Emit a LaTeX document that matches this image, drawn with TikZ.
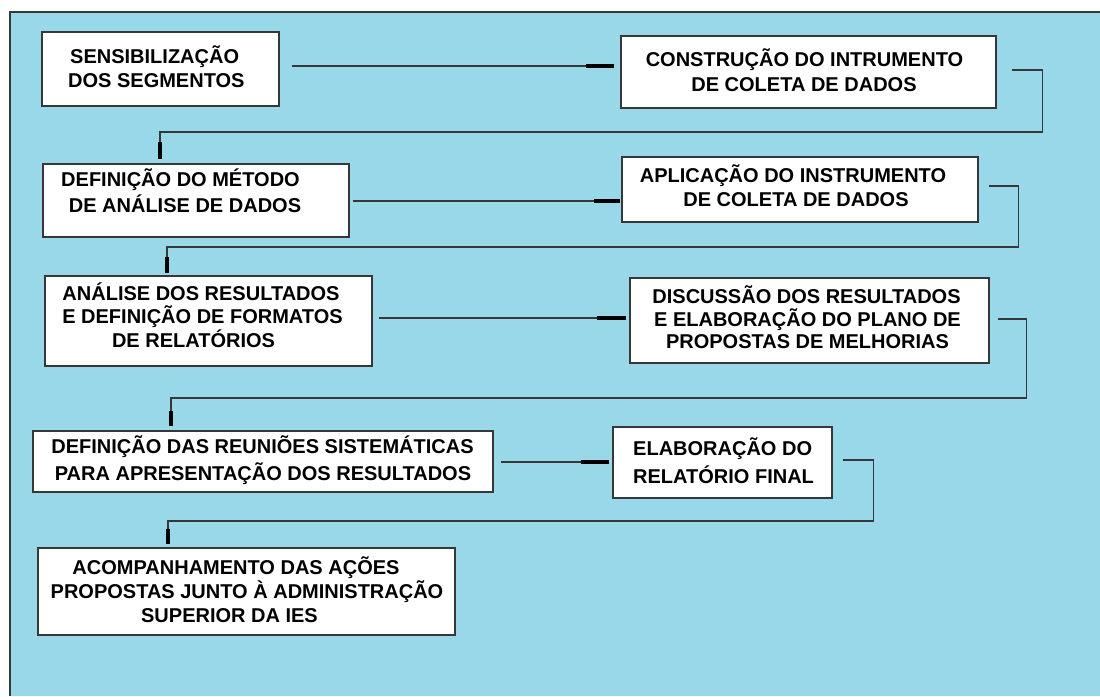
\documentclass[tikz,border=0pt]{standalone}
\usepackage{fontspec}
\setmainfont{Liberation Sans}
\usetikzlibrary{calc}
\definecolor{bgblue}{RGB}{153,216,233}
\definecolor{edge}{RGB}{55,55,55}
\tikzset{
  stepbox/.style={draw=edge, line width=1.5pt, fill=white, inner sep=0pt, rectangle},
  lbl/.style={inner sep=0pt, anchor=base, font=\bfseries\fontsize{20}{24}\selectfont},
  lblw/.style={lbl, anchor=base west},
  conn/.style={draw=edge, line width=1.3pt},
  thickend/.style={draw=black, line width=4pt}
}
\begin{document}
\begin{tikzpicture}[x=1pt,y=-1pt]
\useasboundingbox (0,0) rectangle (1100,696);
\fill[bgblue] (10,12) rectangle (1100,696);
\draw[edge, line width=1.5pt] (10,696) -- (10,12) -- (1100,12);

% boxes
\node[stepbox, minimum width=237pt, minimum height=74pt] (b1) at (160.5,69) {};
\node[stepbox, minimum width=375pt, minimum height=72pt] (b2) at (808.5,72) {};
\node[stepbox, minimum width=306pt, minimum height=73pt] (b3) at (196,200.5) {};
\node[stepbox, minimum width=356pt, minimum height=65pt] (b4) at (800,189.5) {};
\node[stepbox, minimum width=327pt, minimum height=90pt] (b5) at (208.5,321) {};
\node[stepbox, minimum width=359pt, minimum height=85pt] (b6) at (809.5,320.5) {};
\node[stepbox, minimum width=460pt, minimum height=61pt] (b7) at (263,461.5) {};
\node[stepbox, minimum width=219pt, minimum height=71pt] (b8) at (722.5,462.5) {};
\node[stepbox, minimum width=417pt, minimum height=87pt] (b9) at (246.5,591.5) {};

% texts
\node[lblw] (t1a) at (70,63) {SENSIBILIZAÇÃO};
\node[lblw] (t1b) at (68,87) {DOS SEGMENTOS};
\node[lbl] (t2a) at (804.5,66) {CONSTRUÇÃO DO INTRUMENTO};
\node[lbl] (t2b) at (804,91) {DE COLETA DE DADOS};
\node[lbl] (t3a) at (180.5,186) {DEFINIÇÃO DO MÉTODO};
\node[lbl] (t3b) at (185,212) {DE ANÁLISE DE DADOS};
\node[lbl] (t4a) at (793,182) {APLICAÇÃO DO INSTRUMENTO};
\node[lbl] (t4b) at (796,206) {DE COLETA DE DADOS};
\node[lbl] (t5a) at (201,300) {ANÁLISE DOS RESULTADOS};
\node[lbl] (t5b) at (202.5,323) {E DEFINIÇÃO DE FORMATOS};
\node[lbl] (t5c) at (193.5,347) {DE RELATÓRIOS};
\node[lbl] (t6a) at (806.5,303) {DISCUSSÃO DOS RESULTADOS};
\node[lbl] (t6b) at (807.5,326) {E ELABORAÇÃO DO PLANO DE};
\node[lbl] (t6c) at (807.5,348) {PROPOSTAS DE MELHORIAS};
\node[lbl] (t7a) at (262.5,453) {DEFINIÇÃO DAS REUNIÕES SISTEMÁTICAS};
\node[lbl] (t7b) at (263,480) {PARA APRESENTAÇÃO DOS RESULTADOS};
\node[lblw] (t8a) at (633,455) {ELABORAÇÃO DO};
\node[lblw] (t8b) at (633,483) {RELATÓRIO FINAL};
\node[lbl] (t9a) at (236,574) {ACOMPANHAMENTO DAS AÇÕES};
\node[lbl] (t9b) at (247,598) {PROPOSTAS JUNTO À ADMINISTRAÇÃO};
\node[lbl] (t9c) at (229.5,622) {SUPERIOR DA IES};

% connectors
\draw[conn] ($(b1.east)+(12,-3)$) -- ($(b2.west)+(-6,-6)$);
\draw[thickend] ($(b2.west)+(-34,-6)$) -- ($(b2.west)+(-6,-6)$);

\draw[conn] ($(b2.east)+(15,-2)$) -- ($(b2.east)+(46,-2)$) -- ($(b2.east)+(46,60)$) -| ($(b3.north)+(-36,-4)$);
\draw[thickend] ($(b3.north)+(-36,-21)$) -- ($(b3.north)+(-36,-4)$);

\draw[conn] ($(b3.east)+(3,0.5)$) -- ($(b4.west)+(-1,11.5)$);
\draw[thickend] ($(b4.west)+(-27,11.5)$) -- ($(b4.west)+(-1,11.5)$);

\draw[conn] ($(b4.east)+(10,-3.5)$) -- ($(b4.east)+(40,-3.5)$) -- ($(b4.east)+(40,57.5)$) -| ($(b5.north)+(-41.5,-2)$);
\draw[thickend] ($(b5.north)+(-41.5,-18)$) -- ($(b5.north)+(-41.5,-2)$);

\draw[conn] ($(b5.east)+(6,-3)$) -- ($(b6.west)+(-3,-2.5)$);
\draw[thickend] ($(b6.west)+(-32,-2.5)$) -- ($(b6.west)+(-3,-2.5)$);

\draw[conn] ($(b6.east)+(8,-1.5)$) -- ($(b6.east)+(37,-1.5)$) -- ($(b6.east)+(37,77.5)$) -| ($(b7.north)+(-92,-4)$);
\draw[thickend] ($(b7.north)+(-92,-19)$) -- ($(b7.north)+(-92,-4)$);

\draw[conn] ($(b7.east)+(7,0.5)$) -- ($(b8.west)+(-3,-0.5)$);
\draw[thickend] ($(b8.west)+(-31,-0.5)$) -- ($(b8.west)+(-3,-0.5)$);

\draw[conn] ($(b8.east)+(10,-2.5)$) -- ($(b8.east)+(41,-2.5)$) -- ($(b8.east)+(41,58.5)$) -| ($(b9.north)+(-78.5,-3)$);
\draw[thickend] ($(b9.north)+(-78.5,-18)$) -- ($(b9.north)+(-78.5,-3)$);
\end{tikzpicture}
\end{document}
